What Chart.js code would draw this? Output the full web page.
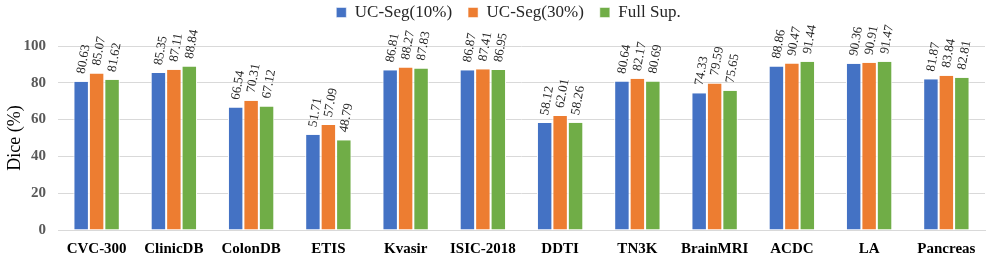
<!DOCTYPE html>
<html>
<head>
<meta charset="utf-8">
<script src="https://cdn.jsdelivr.net/npm/chart.js@4/dist/chart.umd.min.js"></script>
<style>
html,body{margin:0;padding:0;background:#fff;}
#wrap{width:997px;height:266px;position:relative;}
</style>
</head>
<body>
<div id="wrap"><canvas id="c" width="997" height="266"></canvas></div>
<script>
const categories = ["CVC-300","ClinicDB","ColonDB","ETIS","Kvasir","ISIC-2018","DDTI","TN3K","BrainMRI","ACDC","LA","Pancreas"];
const seg10 = [80.63,85.35,66.54,51.71,86.81,86.87,58.12,80.64,74.33,88.86,90.36,81.87];
const seg30 = [85.07,87.11,70.31,57.09,88.27,87.41,62.01,82.17,79.59,90.47,90.91,83.84];
const fullSup = [81.62,88.84,67.12,48.79,87.83,86.95,58.26,80.69,75.65,91.44,91.47,82.81];
const yTicks = [0,20,40,60,80,100];

const SERIF = "'Liberation Serif','Times New Roman',serif";

const labelPlugin = {
  id: 'rotLabels',
  afterDatasetsDraw(chart) {
    const ctx = chart.ctx;
    ctx.save();
    ctx.font = "13px " + SERIF;
    ctx.fillStyle = "#262626";
    ctx.textAlign = "left";
    ctx.textBaseline = "middle";
    chart.data.datasets.forEach((ds, di) => {
      const meta = chart.getDatasetMeta(di);
      meta.data.forEach((el, i) => {
        ctx.save();
        ctx.translate(el.x, el.y - 8);
        ctx.rotate(-80 * Math.PI / 180);
        ctx.fillText(ds.data[i].toFixed(2), 0, 0);
        ctx.restore();
      });
    });
    ctx.restore();
  }
};

const legendTweak = {
  id: 'legendTweak',
  beforeInit(chart) {
    const lg = chart.legend;
    if (!lg) return;
    const origFit = lg.fit.bind(lg);
    lg.fit = function() { origFit(); this.height = 46; };
    const origDraw = lg.draw.bind(lg);
    lg.draw = function() {
      const ctx = chart.ctx;
      ctx.save();
      ctx.translate(14, -12);
      origDraw();
      ctx.restore();
    };
  }
};

new Chart(document.getElementById('c'), {
  type: 'bar',
  data: {
    labels: categories,
    datasets: [
      {label: 'UC-Seg(10%)', data: seg10, backgroundColor: '#4472C4', borderColor: '#ffffff', borderWidth: {left:1,right:1,top:0,bottom:0}},
      {label: 'UC-Seg(30%)', data: seg30, backgroundColor: '#ED7D31', borderColor: '#ffffff', borderWidth: {left:1,right:1,top:0,bottom:0}},
      {label: 'Full Sup.', data: fullSup, backgroundColor: '#70AD47', borderColor: '#ffffff', borderWidth: {left:1,right:1,top:0,bottom:0}}
    ]
  },
  options: {
    responsive: false,
    animation: false,
    devicePixelRatio: 1,
    layout: {padding: {left: 4, right: 12, top: 0, bottom: 6}},
    plugins: {
      legend: {
        position: 'top',
        labels: {
          font: {family: SERIF, size: 17},
          color: '#262626',
          boxWidth: 10,
          boxHeight: 10,
          padding: 16
        }
      },
      tooltip: {enabled: false}
    },
    datasets: {bar: {categoryPercentage: 0.6, barPercentage: 1.0}},
    scales: {
      x: {
        afterFit: (axis) => { axis.height = 30; },
        grid: {display: false, drawTicks: false},
        border: {display: true, color: '#D9D9D9'},
        ticks: {font: {family: SERIF, size: 15, weight: 'bold'}, color: '#000', padding: 10, maxRotation: 0, autoSkip: false}
      },
      y: {
        min: 0, max: 100,
        afterFit: (axis) => { axis.width = 54; },
        afterBuildTicks: (axis) => { axis.ticks = yTicks.map(v => ({value: v})); },
        grid: {color: '#D9D9D9', drawTicks: false},
        border: {display: false},
        ticks: {font: {family: SERIF, size: 15, weight: 'bold'}, color: '#595959', padding: 12},
        title: {display: true, text: 'Dice (%)', font: {family: SERIF, size: 18}, color: '#000', padding: {top: 0, bottom: 2}}
      }
    }
  },
  plugins: [legendTweak, labelPlugin]
});
</script>
</body>
</html>
